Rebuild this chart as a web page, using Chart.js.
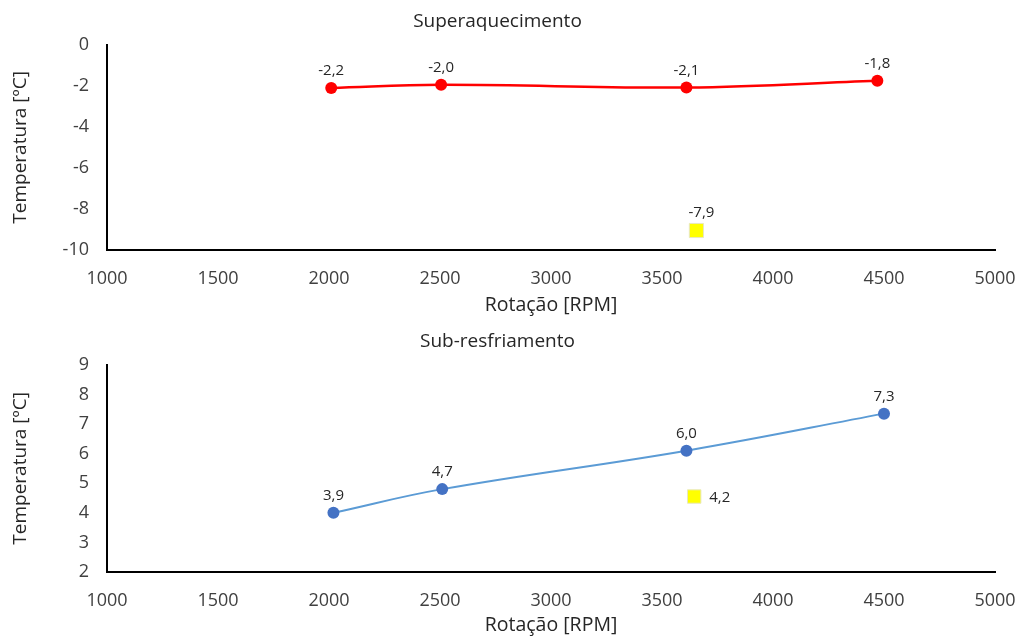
<!DOCTYPE html>
<html>
<head>
<meta charset="utf-8">
<script src="https://cdn.jsdelivr.net/npm/chart.js@4.4.1/dist/chart.umd.min.js"></script>
<style>
  html, body { margin: 0; padding: 0; background: #fff; }
  .box { position: absolute; left: 0; width: 1018px; height: 320px; }
</style>
</head>
<body>
<div class="box" style="top:0"><canvas id="c1"></canvas></div>
<div class="box" style="top:320px"><canvas id="c2"></canvas></div>
<script>
// ---- data ----
const xTicks = [1000, 1500, 2000, 2500, 3000, 3500, 4000, 4500, 5000];

const rpmSuper = [2010, 2505, 3610, 4470];
const tempSuper = [-2.1, -1.95, -2.08, -1.75];
const labelsSuper = ['-2,2', '-2,0', '-2,1', '-1,8'];
const rpmSuperRef = [3655];
const tempSuperRef = [-9.05];
const labelsSuperRef = ['-7,9'];
const ticksSuperY = [-10, -8, -6, -4, -2, 0];

const rpmSub = [2020, 2510, 3610, 4500];
const tempSub = [4.0, 4.8, 6.1, 7.35];
const labelsSub = ['3,9', '4,7', '6,0', '7,3'];
const rpmSubRef = [3645];
const tempSubRef = [4.55];
const labelsSubRef = ['4,2'];
const ticksSubY = [2, 3, 4, 5, 6, 7, 8, 9];

const FONT = "'Open Sans', sans-serif";

const labelPlugin = {
  id: 'pointLabels',
  afterDatasetsDraw(chart) {
    const ctx = chart.ctx;
    chart.data.datasets.forEach((ds, i) => {
      if (!ds.pointText) return;
      const meta = chart.getDatasetMeta(i);
      meta.data.forEach((el, j) => {
        ctx.save();
        ctx.font = '15px ' + FONT;
        ctx.fillStyle = '#262626';
        ctx.textBaseline = 'middle';
        if (ds.textPos === 'right') {
          ctx.textAlign = 'left';
          ctx.fillText(ds.pointText[j], el.x + 15, el.y + 1);
        } else {
          ctx.textAlign = 'center';
          ctx.fillText(ds.pointText[j], el.x + (ds.textDx || 0), el.y - (ds.textDy || 17));
        }
        ctx.restore();
      });
    });
  }
};

function makeChart(id, title, xs, ys, txt, refX, refY, refTxt, yTicks, lineColor, pointColor, lineWidth, refRadius, refPos, refDy, xAxisH) {
  const yMin = yTicks[0], yMax = yTicks[yTicks.length - 1];
  return new Chart(document.getElementById(id), {
    type: 'scatter',
    data: {
      datasets: [
        {
          data: refX.map((x, i) => ({ x: x, y: refY[i] })),
          pointStyle: 'rect',
          pointRadius: refRadius,
          pointHoverRadius: refRadius,
          backgroundColor: '#FFFF00',
          borderColor: '#e8e8c0',
          borderWidth: 1,
          showLine: false,
          pointText: refTxt,
          textPos: refPos,
          textDx: 5,
          textDy: refDy
        },
        {
          data: xs.map((x, i) => ({ x: x, y: ys[i] })),
          showLine: true,
          tension: 0.4,
          borderColor: lineColor,
          borderWidth: lineWidth,
          pointRadius: 6,
          pointHoverRadius: 6,
          pointBackgroundColor: pointColor,
          pointBorderColor: pointColor,
          pointBorderWidth: 0,
          pointText: txt,
          textDy: 17
        }
      ]
    },
    options: {
      responsive: true,
      maintainAspectRatio: false,
      animation: false,
      layout: { padding: { left: 0, right: 23, top: 0, bottom: 0 } },
      plugins: {
        legend: { display: false },
        tooltip: { enabled: false },
        title: {
          display: true,
          text: title,
          color: '#262626',
          font: { family: FONT, size: 19, weight: 'normal' },
          padding: { top: 10, bottom: 12 }
        }
      },
      scales: {
        x: {
          type: 'linear',
          min: xTicks[0],
          max: xTicks[xTicks.length - 1],
          afterBuildTicks: (s) => { s.ticks = xTicks.map(v => ({ value: v })); },
          grid: { display: false, drawTicks: false },
          border: { display: true, color: '#000', width: 2 },
          ticks: { color: '#404040', font: { family: FONT, size: 18 }, padding: 18, maxRotation: 0,
                   callback: (v) => String(v) },
          title: { display: true, text: 'Rotação [RPM]', color: '#262626', font: { family: FONT, size: 19.5 }, padding: { top: 0, bottom: 3 } },
          afterFit: (s) => { s.height = xAxisH; s.paddingRight = 0; s.paddingLeft = 0; }
        },
        y: {
          type: 'linear',
          min: yMin,
          max: yMax,
          afterBuildTicks: (s) => { s.ticks = yTicks.map(v => ({ value: v })); },
          grid: { display: false, drawTicks: false },
          border: { display: true, color: '#000', width: 2 },
          ticks: { color: '#404040', font: { family: FONT, size: 18 }, padding: 18,
                   callback: (v) => String(v) },
          title: { display: true, text: 'Temperatura [ºC]', color: '#262626', font: { family: FONT, size: 19 }, padding: { top: 9, bottom: 0 } },
          afterFit: (s) => { s.width = 107; s.paddingTop = 0; s.paddingBottom = 0; }
        }
      }
    },
    plugins: [labelPlugin]
  });
}

makeChart('c1', 'Superaquecimento', rpmSuper, tempSuper, labelsSuper,
  rpmSuperRef, tempSuperRef, labelsSuperRef, ticksSuperY,
  '#FF0000', '#FF0000', 2.5, 10, 'above', 18, 70);
makeChart('c2', 'Sub-resfriamento', rpmSub, tempSub, labelsSub,
  rpmSubRef, tempSubRef, labelsSubRef, ticksSubY,
  '#5B9BD5', '#4472C4', 2, 9.5, 'right', 18, 68);
</script>
</body>
</html>
